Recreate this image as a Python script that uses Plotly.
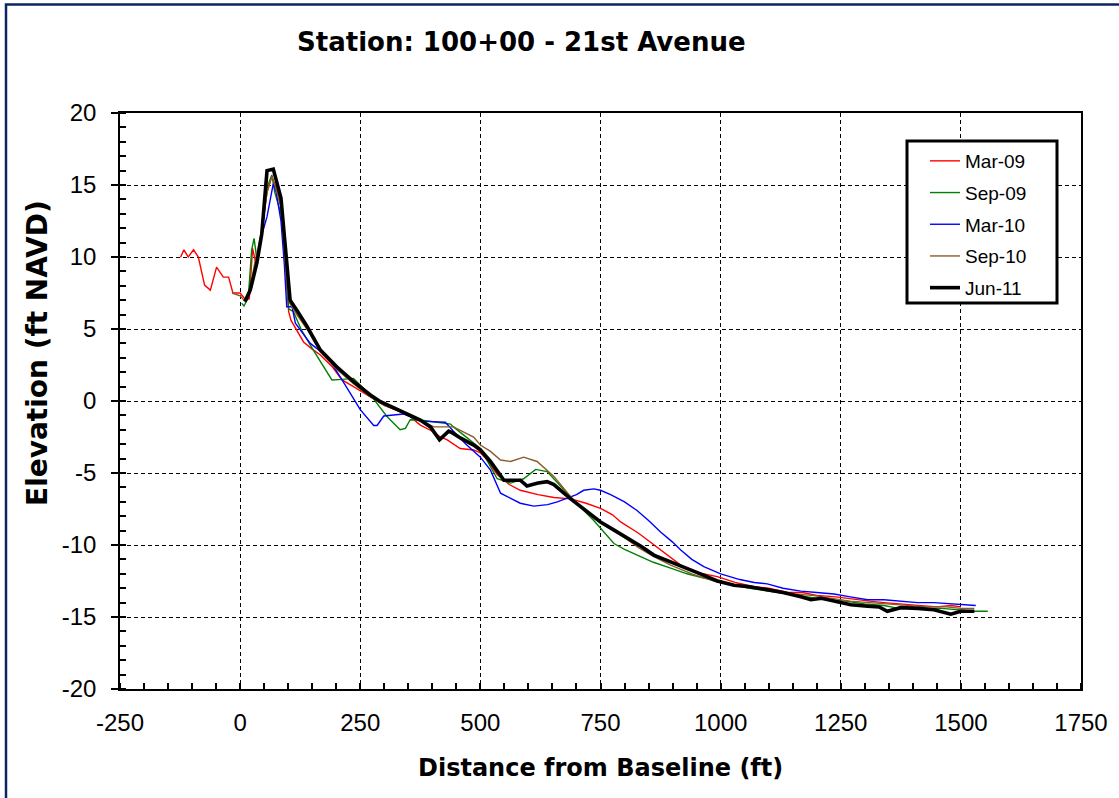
import plotly.graph_objects as go

# ---- data ----
mar09_x = [-124, -117, -108, -97, -87, -74, -62, -49, -35, -24, -15, 0, 12, 19, 26, 33, 45, 56, 66, 75, 85, 97, 101, 106,
           115, 132, 150, 167, 191, 212, 236, 271, 300, 330, 354, 375, 400, 417, 431, 458, 486, 500, 514, 535, 560, 583,
           620, 653, 688, 720, 750, 775, 792, 830, 861, 890, 917, 950, 993, 1030, 1070, 1100, 1140, 1170, 1200, 1240,
           1280, 1310, 1340, 1380, 1420, 1450, 1480, 1500]
mar09_y = [9.98, 10.5, 10.0, 10.5, 10.0, 8.05, 7.7, 9.3, 8.6, 8.6, 7.5, 7.5, 7.0, 7.1, 10.6, 9.5, 11.8, 14.5, 15.6, 14.8,
           13.5, 8.0, 6.2, 5.6, 5.05, 4.1, 3.6, 3.2, 2.4, 1.46, 1.0, 0.3, -0.3, -0.7, -1.09, -1.67, -2.1, -2.5, -2.7,
           -3.3, -3.4, -3.6, -4.1, -5.1, -5.8, -6.2, -6.5, -6.7, -6.8, -7.1, -7.45, -7.9, -8.4, -9.2, -10.0, -10.7,
           -11.4, -11.9, -12.2, -12.6, -12.9, -13.0, -13.3, -13.3, -13.5, -13.6, -13.8, -13.9, -14.0, -14.1, -14.2,
           -14.3, -14.2, -14.3]

sep09_x = [3, 8, 17, 24, 29, 35, 42, 50, 58, 66, 72, 85, 97, 101, 111, 128, 153, 174, 191, 212, 236, 253, 274, 306, 333,
           344, 354, 375, 417, 438, 444, 470, 500, 535, 563, 590, 615, 639, 667, 694, 736, 760, 778, 800, 826, 860, 896,
           930, 965, 1000, 1030, 1060, 1100, 1140, 1180, 1220, 1260, 1300, 1340, 1370, 1400, 1430, 1460, 1500, 1530, 1556]
sep09_y = [6.8, 6.6, 7.2, 10.5, 11.3, 9.8, 11.0, 13.3, 15.0, 15.7, 14.5, 13.0, 8.5, 6.4, 6.2, 4.9, 3.5, 2.4, 1.46, 1.5,
           1.57, 1.0, 0.3, -1.09, -2.0, -1.9, -1.3, -1.32, -1.5, -1.6, -1.8, -2.5, -3.3, -5.4, -5.7, -5.4, -4.75, -4.9,
           -5.95, -6.9, -8.3, -9.2, -9.9, -10.3, -10.7, -11.2, -11.6, -12.0, -12.3, -12.5, -12.8, -13.0, -13.2, -13.4,
           -13.6, -13.8, -13.9, -14.1, -14.2, -14.4, -14.3, -14.4, -14.4, -14.5, -14.6, -14.6]

mar10_x = [10, 20, 35, 45, 56, 62, 69, 75, 85, 92, 97, 108, 115, 146, 181, 208, 215, 236, 250, 278, 285, 299, 340, 375,
           427, 444, 470, 500, 521, 542, 583, 611, 640, 660, 681, 700, 715, 736, 750, 771, 800, 826, 850, 875, 900, 917,
           940, 965, 1000, 1040, 1070, 1097, 1130, 1167, 1200, 1236, 1270, 1306, 1340, 1375, 1410, 1444, 1480, 1514, 1531]
mar10_y = [7.0, 7.6, 9.5, 11.5, 12.8, 13.8, 15.1, 14.5, 12.5, 9.5, 6.55, 6.55, 5.4, 4.0, 3.1, 1.7, 1.3, 0.2, -0.6, -1.7,
           -1.7, -1.04, -0.9, -1.4, -1.48, -2.1, -3.0, -3.9, -4.8, -6.4, -7.1, -7.3, -7.2, -7.0, -6.76, -6.5, -6.2, -6.1,
           -6.2, -6.5, -7.0, -7.6, -8.3, -9.1, -9.8, -10.35, -11.0, -11.5, -12.0, -12.4, -12.6, -12.7, -13.0, -13.2,
           -13.3, -13.4, -13.6, -13.8, -13.8, -13.9, -14.0, -14.0, -14.1, -14.2, -14.2]

sep10_x = [-17, 0, 8, 20, 30, 45, 56, 66, 72, 85, 97, 103, 118, 139, 167, 201, 236, 271, 300, 354, 403, 444, 486, 500,
           521, 542, 563, 590, 618, 653, 688, 720, 750, 792, 830, 861, 896, 940, 986, 1030, 1070, 1110, 1150, 1190, 1230,
           1270, 1310, 1350, 1390, 1430, 1470, 1500, 1528]
sep10_y = [7.5, 7.3, 7.0, 7.6, 9.5, 11.8, 14.5, 15.6, 15.0, 13.5, 8.3, 6.8, 6.0, 5.0, 3.4, 2.2, 1.2, 0.3, -0.3, -1.0,
           -1.8, -1.8, -2.5, -3.06, -3.5, -4.1, -4.2, -3.9, -4.2, -5.25, -6.65, -7.7, -8.4, -9.3, -10.2, -10.8, -11.4,
           -12.0, -12.5, -12.8, -13.0, -13.2, -13.4, -13.5, -13.7, -13.9, -14.0, -14.1, -14.2, -14.3, -14.3, -14.4, -14.4]

jun11_x = [10, 21, 35, 45, 56, 69, 85, 101, 104, 118, 139, 167, 201, 236, 271, 292, 320, 361, 375, 396, 415, 434, 441,
           460, 486, 500, 521, 549, 583, 597, 620, 639, 653, 688, 720, 750, 780, 806, 835, 861, 900, 931, 958, 993, 1028,
           1060, 1097, 1130, 1167, 1188, 1210, 1236, 1271, 1306, 1330, 1347, 1375, 1410, 1444, 1479, 1500, 1528]
jun11_y = [6.9, 7.7, 9.6, 11.6, 16.0, 16.1, 14.1, 7.7, 7.0, 6.3, 5.2, 3.54, 2.38, 1.34, 0.42, -0.05, -0.5, -1.09, -1.32,
           -1.8, -2.7, -2.1, -2.2, -2.6, -3.06, -3.4, -4.2, -5.5, -5.5, -5.9, -5.7, -5.6, -5.8, -6.8, -7.6, -8.4, -9.0,
           -9.5, -10.1, -10.7, -11.2, -11.6, -12.0, -12.5, -12.8, -12.9, -13.1, -13.3, -13.6, -13.8, -13.7, -13.9,
           -14.15, -14.25, -14.3, -14.6, -14.35, -14.4, -14.5, -14.8, -14.6, -14.6]

series_names = ["Mar-09", "Sep-09", "Mar-10", "Sep-10", "Jun-11"]
series_x = [mar09_x, sep09_x, mar10_x, sep10_x, jun11_x]
series_y = [mar09_y, sep09_y, mar10_y, sep10_y, jun11_y]
series_colors = ["#ff0000", "#008000", "#0000ff", "#8B5A2B", "#000000"]
series_widths = [1.4, 1.4, 1.4, 1.4, 3.6]

x_tick_vals = [-250, 0, 250, 500, 750, 1000, 1250, 1500, 1750]
x_tick_labels = ["-250", "0", "250", "500", "750", "1000", "1250", "1500", "1750"]
y_tick_vals = [-20, -15, -10, -5, 0, 5, 10, 15, 20]
y_tick_labels = ["-20", "-15", "-10", "-5", "0", "5", "10", "15", "20"]

title_text = "Station: 100+00 - 21st Avenue"
x_title = "Distance from Baseline (ft)"
y_title = "Elevation (ft NAVD)"

FONT = "Liberation Sans, Arial, Helvetica, sans-serif"
BOLD_FONT = "DejaVu Sans, Liberation Sans, Arial, sans-serif"

# plot area in pixels
W, H = 1119, 798
L, R, T, B = 120, 1081, 113, 689
pw, ph = R - L, B - T


def px_x(p):
    return (p - L) / pw


def px_y(p):
    return (B - p) / ph


fig = go.Figure()
for n, xs, ys, c, w in zip(series_names, series_x, series_y, series_colors, series_widths):
    fig.add_trace(go.Scatter(x=xs, y=ys, mode="lines", name=n, legendgroup=n,
                             line=dict(color=c, width=w)))

axis_common = dict(
    showline=True, linecolor="black", linewidth=1.5, mirror=True,
    showgrid=True, gridcolor="black", gridwidth=1, griddash="4px,3px",
    zeroline=False,
    tickfont=dict(family=FONT, size=24, color="black"),
)

fig.update_xaxes(range=[-250, 1750], tickmode="array", tickvals=x_tick_vals, ticktext=x_tick_labels,
                 ticks="", ticklabelstandoff=11,
                 minor=dict(tickmode="linear", tick0=-250, dtick=50, ticks="inside", ticklen=6,
                            tickcolor="black", tickwidth=1.5, showgrid=False),
                 **axis_common)
fig.update_yaxes(range=[-20, 20], tickmode="array", tickvals=y_tick_vals, ticktext=y_tick_labels,
                 ticks="outside", ticklen=7, tickwidth=1.5, tickcolor="black", ticklabelstandoff=10,
                 minor=dict(tickmode="linear", tick0=-20, dtick=1, ticks="inside", ticklen=6,
                            tickcolor="black", tickwidth=1.5, showgrid=False),
                 **axis_common)

shapes = [
    # outer navy frame
    dict(type="rect", xref="paper", yref="paper",
         x0=px_x(6), x1=px_x(1130), y0=px_y(810), y1=px_y(4.5),
         line=dict(color="#0b2463", width=2.5), fillcolor="rgba(0,0,0,0)", layer="below"),
    # legend box
    dict(type="rect", xref="paper", yref="paper",
         x0=px_x(907), x1=px_x(1057), y0=px_y(303), y1=px_y(141),
         line=dict(color="black", width=3), fillcolor="white", layer="above"),
]

annotations = [
    dict(text=f"<b>{title_text}</b>", xref="paper", yref="paper", x=px_x(521), y=px_y(42),
         xanchor="center", yanchor="middle", showarrow=False,
         font=dict(family=BOLD_FONT, size=26, color="black")),
    dict(text=f"<b>{x_title}</b>", xref="paper", yref="paper", x=px_x(600), y=px_y(768),
         xanchor="center", yanchor="middle", showarrow=False,
         font=dict(family=BOLD_FONT, size=24, color="black")),
    dict(text=f"<b>{y_title}</b>", xref="paper", yref="paper", x=px_x(37), y=px_y(353),
         xanchor="center", yanchor="middle", showarrow=False, textangle=-90,
         font=dict(family=BOLD_FONT, size=28, color="black")),
]

fig.update_layout(
    width=W, height=H,
    margin=dict(l=L, r=W - R, t=T, b=H - B, pad=0),
    paper_bgcolor="white", plot_bgcolor="white",
    showlegend=True,
    legend=dict(x=px_x(925), y=px_y(142), xanchor="left", yanchor="top",
                bgcolor="rgba(0,0,0,0)", borderwidth=0,
                font=dict(family=FONT, size=19, color="black"),
                traceorder="grouped", tracegroupgap=4, itemwidth=30),
    shapes=shapes,
    annotations=annotations,
)

fig.write_html("out.html")
